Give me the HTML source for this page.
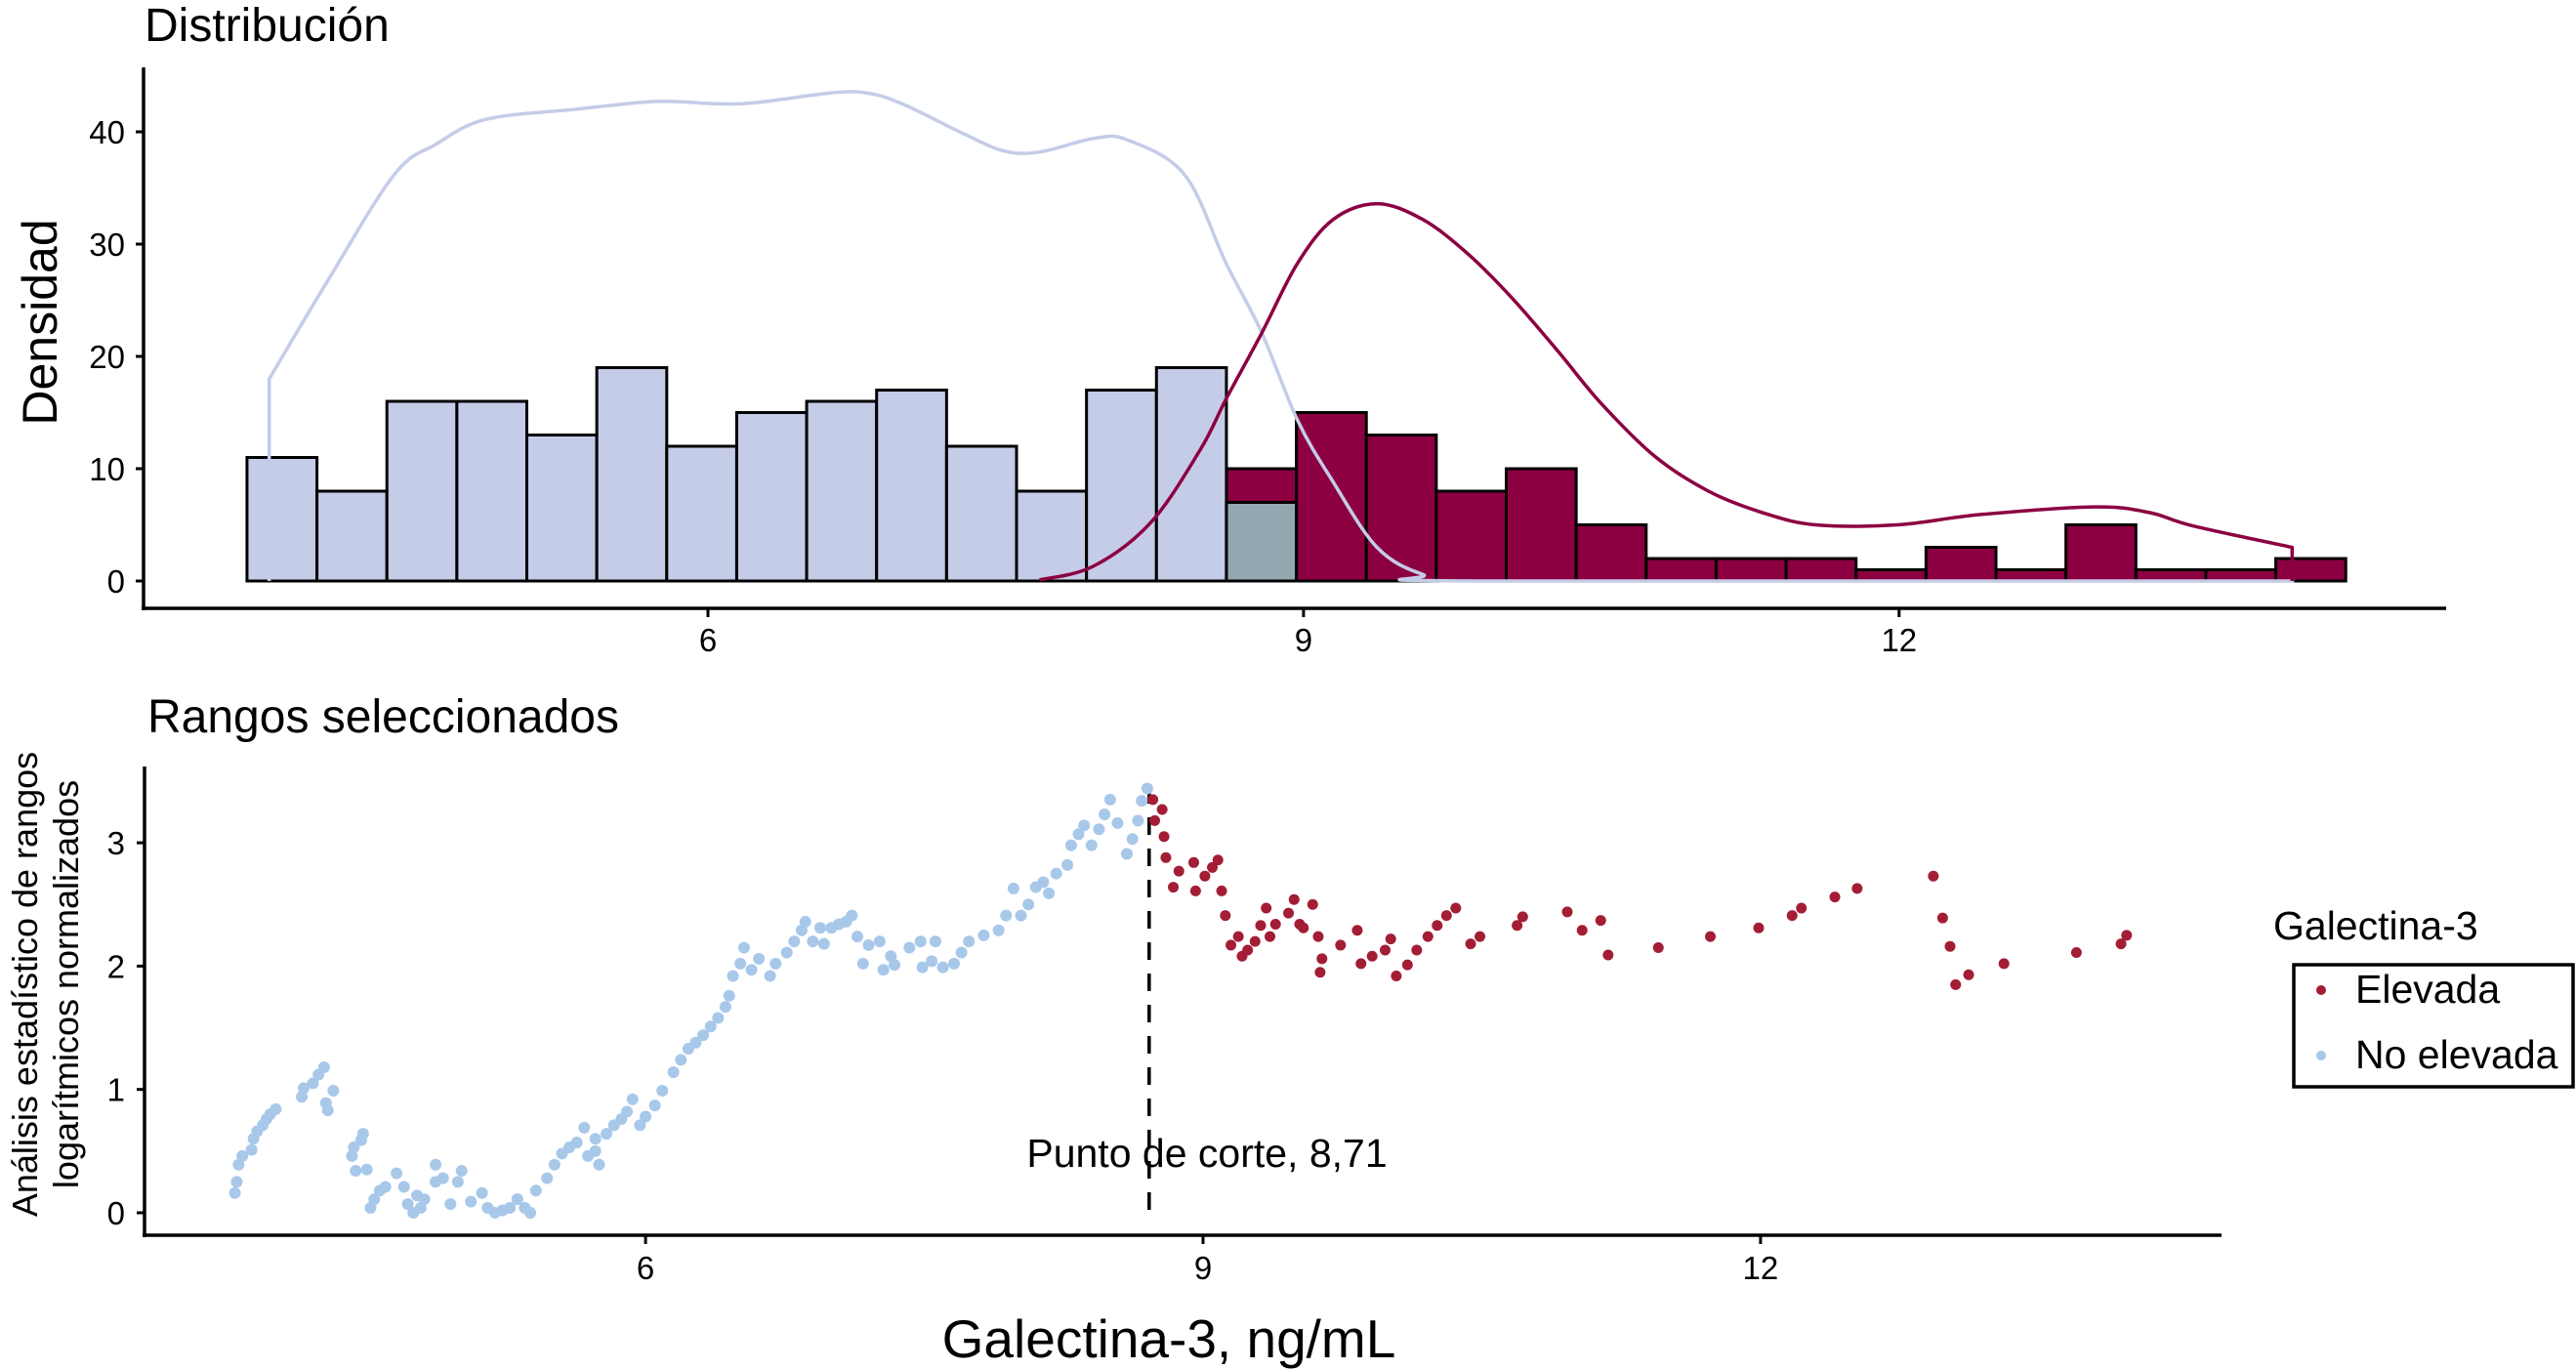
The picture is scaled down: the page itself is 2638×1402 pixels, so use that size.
<!DOCTYPE html>
<html><head><meta charset="utf-8">
<style>
html,body{margin:0;padding:0;background:#fff;}
svg{display:block;font-family:"Liberation Sans",Arial,sans-serif;}
</style></head>
<body>
<svg id="chart" width="2638" height="1402" viewBox="0 0 2638 1402" xmlns="http://www.w3.org/2000/svg">
<g id="topPanel"></g>
<g id="bottomPanel"></g>
</svg>
<script>
// ---------- data ----------
const binStart = 3.678;
const binWidth = 0.3524;
const blueCounts = [11,8,16,16,13,19,12,15,16,17,12,8,17,19,7];
const redStartBin = 14;
const redCounts = [10,15,13,8,10,5,2,2,2,1,3,1,5,1,1,2];
const blueDensX = [3.79,3.79,4.09,4.42,4.63,4.88,5.33,5.74,6.04,6.24,6.64,6.82,6.99,7.28,7.49,7.67,7.94,8.11,8.40,8.61,8.79,8.97,9.15,9.37,9.60,9.87,13.99];
const blueDensY = [0,18.0,26.9,36.2,38.9,41.1,42.0,42.7,42.5,42.6,43.5,43.4,42.4,39.9,38.3,38.2,39.4,39.3,36.2,28.3,22.1,14.3,8.8,3.0,0.6,0,0];
const redDensX = [7.67,7.94,8.23,8.48,8.61,8.79,8.97,9.15,9.37,9.60,9.83,10.05,10.28,10.50,10.77,11.04,11.31,11.58,11.99,12.40,12.98,13.26,13.48,13.98,13.98];
const redDensY = [0.1,1.3,5.2,11.7,16.2,22.1,28.3,32.2,33.6,32.2,29.1,25.2,20.5,15.8,11.1,8.0,6.1,5.0,5.0,5.9,6.6,6.1,4.9,3.0,0];
const topXTicks = [6,9,12];
const topYTicks = [0,10,20,30,40];
const blueX = [3.79,3.80,3.81,3.83,3.88,3.89,3.91,3.94,3.96,3.98,4.01,4.15,4.16,4.21,4.24,4.27,4.28,4.29,4.32,4.42,4.43,4.47,4.48,4.44,4.50,4.52,4.54,4.57,4.60,4.66,4.70,4.72,4.75,4.77,4.79,4.81,4.87,4.87,4.91,4.95,4.99,5.01,5.06,5.12,5.15,5.19,5.23,5.27,5.31,5.35,5.38,5.41,5.47,5.51,5.55,5.59,5.63,5.67,5.69,5.73,5.73,5.75,5.79,5.83,5.87,5.90,5.93,5.97,6.00,6.05,6.09,6.15,6.19,6.23,6.27,6.31,6.35,6.39,6.43,6.45,6.47,6.51,6.53,6.57,6.61,6.67,6.70,6.76,6.80,6.84,6.86,6.90,6.94,6.96,7.00,7.04,7.08,7.11,7.14,7.17,7.20,7.26,7.28,7.32,7.34,7.42,7.48,7.49,7.54,7.56,7.60,7.66,7.70,7.74,7.82,7.90,7.94,7.98,8.02,8.06,8.10,8.14,8.17,8.21,8.27,8.29,8.33,8.36,8.40,8.44,8.47,8.50,8.54,8.59,8.62,8.65,8.67,8.70];
const blueY = [0.16,0.25,0.39,0.46,0.51,0.60,0.66,0.71,0.76,0.80,0.84,0.94,1.01,1.05,1.12,1.18,0.89,0.83,0.99,0.46,0.53,0.59,0.64,0.34,0.35,0.04,0.11,0.18,0.21,0.32,0.21,0.07,0.0,0.14,0.04,0.11,0.39,0.25,0.28,0.07,0.25,0.34,0.09,0.16,0.04,0.0,0.02,0.04,0.11,0.04,0.0,0.18,0.28,0.39,0.48,0.53,0.57,0.69,0.46,0.60,0.50,0.39,0.64,0.71,0.76,0.82,0.92,0.71,0.78,0.87,0.99,1.14,1.24,1.33,1.38,1.44,1.51,1.58,1.67,1.76,1.92,2.02,2.15,1.97,2.06,1.92,2.02,2.11,2.20,2.29,2.36,2.20,2.31,2.18,2.31,2.34,2.36,2.41,2.24,2.02,2.17,2.20,1.97,2.08,2.01,2.15,2.20,1.99,2.04,2.20,1.99,2.02,2.11,2.20,2.25,2.29,2.41,2.63,2.41,2.50,2.64,2.68,2.59,2.75,2.82,2.98,3.07,3.14,2.98,3.11,3.23,3.35,3.16,2.91,3.03,3.18,3.34,3.44];
const redX = [8.73,8.78,8.74,8.79,8.80,8.84,8.87,8.95,8.96,9.01,9.05,9.08,9.10,9.12,9.15,9.19,9.21,9.24,9.28,9.31,9.34,9.36,9.39,9.46,9.49,9.52,9.54,9.59,9.62,9.64,9.63,9.74,9.83,9.85,9.91,9.98,10.01,10.04,10.10,10.15,10.21,10.26,10.31,10.36,10.44,10.49,10.69,10.72,10.96,11.04,11.14,11.18,11.45,11.73,11.99,12.17,12.22,12.40,12.52,12.93,12.98,13.02,13.05,13.12,13.31,13.70,13.94,13.97];
const redY = [3.35,3.27,3.18,3.05,2.88,2.64,2.77,2.84,2.61,2.73,2.80,2.86,2.61,2.41,2.17,2.24,2.08,2.13,2.20,2.33,2.47,2.24,2.34,2.43,2.54,2.34,2.31,2.50,2.24,2.06,1.95,2.17,2.29,2.02,2.08,2.13,2.22,1.92,2.01,2.13,2.24,2.33,2.41,2.47,2.18,2.24,2.33,2.40,2.44,2.29,2.37,2.09,2.15,2.24,2.31,2.41,2.47,2.56,2.63,2.73,2.39,2.16,1.85,1.93,2.02,2.11,2.18,2.25];
const botXTicks = [6,9,12];
const botYTicks = [0,1,2,3];
const cutoff = [8.71];

// ---------- helpers ----------
const NS = "http://www.w3.org/2000/svg";
function mk(parent, tag, attrs, text){
  const e = document.createElementNS(NS, tag);
  for (const k in attrs) e.setAttribute(k, attrs[k]);
  if (text !== undefined) e.textContent = text;
  parent.appendChild(e);
  return e;
}
const svgRoot = document.getElementById('chart');
const topG = document.getElementById('topPanel');
const botG = document.getElementById('bottomPanel');

const tx = v => 725 + (v - 6) * 203.3;
const ty = v => 595 - v * 11.5;
const bx = v => 1232 + (v - 9) * 190.3;
const by = v => 1242 - v * 126.3;

// ---------- top panel ----------
let t = mk(topG, 'text', {x:148, y:42, 'font-size':48, fill:'#000'}, 'Distribución');


t = mk(topG, 'text', {x:0, y:0, 'font-size':50, fill:'#000', 'text-anchor':'middle', transform:'translate(58,330) rotate(-90)'}, 'Densidad');



redCounts.forEach((c, i) => {
  const b = redStartBin + i;
  const x0 = binStart + b * binWidth;
  const r = mk(topG, 'rect', {x:tx(x0), y:ty(c), width:tx(x0+binWidth)-tx(x0), height:ty(0)-ty(c), fill:'#8c0042', stroke:'#000', 'stroke-width':3});
  
  
});
blueCounts.forEach((c, b) => {
  const x0 = binStart + b * binWidth;
  const overlap = b >= redStartBin;
  const r = mk(topG, 'rect', {x:tx(x0), y:ty(c), width:tx(x0+binWidth)-tx(x0), height:ty(0)-ty(c), fill: overlap ? '#93a8b0' : '#c5cce8', stroke:'#000', 'stroke-width':3});
  
  
});
function smoothPath(xs, ys){
  const P = xs.map((v,i)=>[tx(v), ty(ys[i])]);
  const base = ty(0);
  let d = 'M'+P[0][0].toFixed(1)+','+P[0][1].toFixed(1);
  for (let i=0;i<P.length-1;i++){
    const p0=P[Math.max(0,i-1)], p1=P[i], p2=P[i+1], p3=P[Math.min(P.length-1,i+2)];
    if (Math.abs(p2[0]-p1[0])<0.5 || (p1[1]>=base-0.1 && p2[1]>=base-0.1)){ d+='L'+p2[0].toFixed(1)+','+p2[1].toFixed(1); continue; }
    const a0 = Math.abs(p1[0]-p0[0])<0.5 ? p1 : p0;
    const a3 = Math.abs(p3[0]-p2[0])<0.5 ? p2 : p3;
    const c1=[p1[0]+(p2[0]-a0[0])/6, Math.min(base, p1[1]+(p2[1]-a0[1])/6)];
    const c2=[p2[0]-(a3[0]-p1[0])/6, Math.min(base, p2[1]-(a3[1]-p1[1])/6)];
    d+='C'+c1[0].toFixed(1)+','+c1[1].toFixed(1)+' '+c2[0].toFixed(1)+','+c2[1].toFixed(1)+' '+p2[0].toFixed(1)+','+p2[1].toFixed(1);
  }
  return d;
}
let p = mk(topG, 'path', {d:smoothPath(blueDensX, blueDensY), fill:'none', stroke:'#c5cce8', 'stroke-width':3.5, 'stroke-linejoin':'round'});


p = mk(topG, 'path', {d:smoothPath(redDensX, redDensY), fill:'none', stroke:'#8c0042', 'stroke-width':3.5, 'stroke-linejoin':'round'});



let a = mk(topG, 'line', {x1:147, y1:69, x2:147, y2:625, stroke:'#000', 'stroke-width':3.5});


a = mk(topG, 'line', {x1:145, y1:623, x2:2505, y2:623, stroke:'#000', 'stroke-width':3.5});


topYTicks.forEach(v => {
  const l = mk(topG, 'line', {x1:139, y1:ty(v), x2:147, y2:ty(v), stroke:'#000', 'stroke-width':3});
  
  
  const tt = mk(topG, 'text', {x:128, y:ty(v)+12, 'font-size':33, 'text-anchor':'end', fill:'#000'}, String(v));
  
  
});
topXTicks.forEach(v => {
  const l = mk(topG, 'line', {x1:tx(v), y1:623, x2:tx(v), y2:632, stroke:'#000', 'stroke-width':3});
  
  
  const tt = mk(topG, 'text', {x:tx(v), y:667, 'font-size':33, 'text-anchor':'middle', fill:'#000'}, String(v));
  
  
});

// ---------- bottom panel ----------
t = mk(botG, 'text', {x:151, y:750, 'font-size':48, fill:'#000'}, 'Rangos seleccionados');


t = mk(botG, 'text', {x:0, y:0, 'font-size':36, fill:'#000', 'text-anchor':'middle', transform:'translate(38,1008) rotate(-90)'}, 'Análisis estadístico de rangos');


t = mk(botG, 'text', {x:0, y:0, 'font-size':36, fill:'#000', 'text-anchor':'middle', transform:'translate(80,1008) rotate(-90)'}, 'logarítmicos normalizados');



let c = mk(botG, 'line', {x1:bx(cutoff[0]), y1:805, x2:bx(cutoff[0]), y2:by(0), stroke:'#000', 'stroke-width':3.5, 'stroke-dasharray':'18,14'});


t = mk(botG, 'text', {x:1236, y:1195, 'font-size':41, 'text-anchor':'middle', fill:'#000'}, 'Punto de corte, 8,71');



blueX.forEach((v,i) => {
  const d = mk(botG, 'circle', {cx:bx(v), cy:by(blueY[i]), r:6, fill:'#a8c8ea'});
  
  
});
redX.forEach((v,i) => {
  const d = mk(botG, 'circle', {cx:bx(v), cy:by(redY[i]), r:5.5, fill:'#a31d35'});
  
  
});

a = mk(botG, 'line', {x1:148, y1:785, x2:148, y2:1267, stroke:'#000', 'stroke-width':3.5});


a = mk(botG, 'line', {x1:146, y1:1265, x2:2275, y2:1265, stroke:'#000', 'stroke-width':3.5});


botYTicks.forEach(v => {
  const l = mk(botG, 'line', {x1:140, y1:by(v), x2:148, y2:by(v), stroke:'#000', 'stroke-width':3});
  
  
  const tt = mk(botG, 'text', {x:128, y:by(v)+12, 'font-size':33, 'text-anchor':'end', fill:'#000'}, String(v));
  
  
});
botXTicks.forEach(v => {
  const l = mk(botG, 'line', {x1:bx(v), y1:1265, x2:bx(v), y2:1274, stroke:'#000', 'stroke-width':3});
  
  
  const tt = mk(botG, 'text', {x:bx(v), y:1310, 'font-size':33, 'text-anchor':'middle', fill:'#000'}, String(v));
  
  
});
t = mk(botG, 'text', {x:1197, y:1390, 'font-size':55, 'text-anchor':'middle', fill:'#000'}, 'Galectina-3, ng/mL');



// legend
const lg = mk(svgRoot, 'g', {});


t = mk(lg, 'text', {x:2328, y:962, 'font-size':41, fill:'#000'}, 'Galectina-3');


let bx2 = mk(lg, 'rect', {x:2349, y:988, width:286, height:125, fill:'#fff', stroke:'#000', 'stroke-width':3.5});


let ld = mk(lg, 'circle', {cx:2377, cy:1014, r:5, fill:'#a31d35'});


t = mk(lg, 'text', {x:2412, y:1027, 'font-size':41, fill:'#000'}, 'Elevada');


ld = mk(lg, 'circle', {cx:2377, cy:1081, r:5, fill:'#a8c8ea'});


t = mk(lg, 'text', {x:2412, y:1094, 'font-size':41, fill:'#000'}, 'No elevada');


</script>
</body></html>
